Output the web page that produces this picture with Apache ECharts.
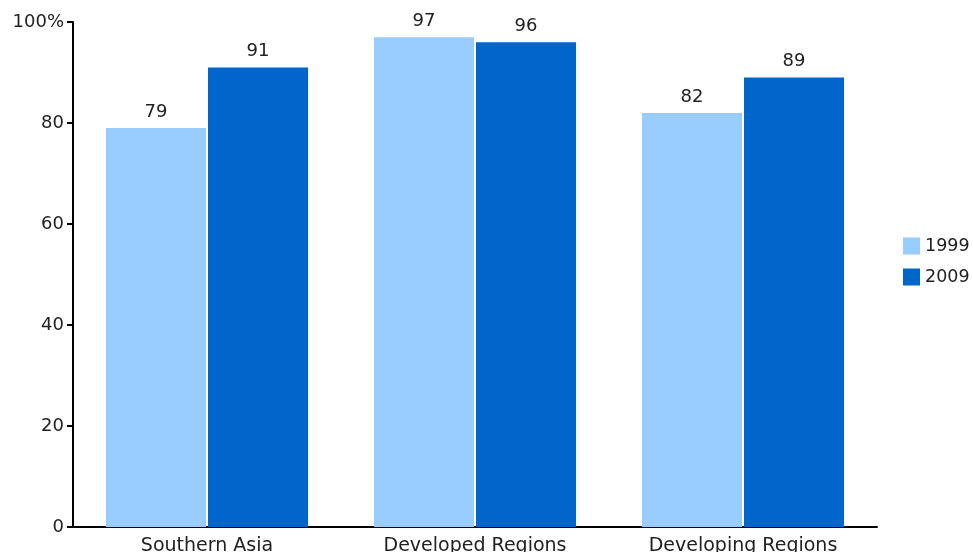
<!DOCTYPE html>
<html><head><meta charset="utf-8">
<script src="https://cdn.jsdelivr.net/npm/echarts@6/dist/echarts.min.js"></script>
<style>html,body{margin:0;padding:0;background:#fff}#c{width:973px;height:552px}</style>
</head><body><div id="c"></div>
<script>
const categories = ['Southern Asia', 'Developed Regions', 'Developing Regions'];
const values1999 = [79, 97, 82];
const values2009 = [91, 96, 89];
const seriesNames = ['1999', '2009'];
const yTicks = [0, 20, 40, 60, 80, 100];

const font = 'DejaVu Sans';
const chart = echarts.init(document.getElementById('c'));
chart.setOption({
  animation: false,
  textStyle: { fontFamily: font },
  legend: {
    orient: 'vertical', left: 903, top: 237, padding: 0,
    itemWidth: 17, itemHeight: 17, itemGap: 13,
    icon: 'rect',
    textStyle: { fontSize: 17.5, color: '#222', fontFamily: font },
    data: seriesNames
  },
  grid: { left: 73, right: 96, top: 22, bottom: 25, containLabel: false, outerBoundsMode: 'none' },
  xAxis: {
    type: 'category', data: categories,
    axisLine: { lineStyle: { color: '#000', width: 2 } },
    axisTick: { show: false },
    axisLabel: { fontSize: 19, color: '#222', margin: 10, fontFamily: font }
  },
  yAxis: {
    type: 'value', min: yTicks[0], max: yTicks[yTicks.length - 1], interval: 20,
    axisLine: { show: true, lineStyle: { color: '#000', width: 2 } },
    axisTick: { show: true, length: 6, lineStyle: { color: '#000', width: 2 } },
    splitLine: { show: false },
    axisLabel: {
      fontSize: 18, color: '#222', margin: 9, fontFamily: font,
      formatter: v => v === 100 ? '100%' : String(v)
    }
  },
  series: [
    {
      name: seriesNames[0], type: 'bar', data: values1999,
      barGap: '2%', barCategoryGap: '24.6%',
      itemStyle: { color: '#99CCFF' },
      label: { show: true, position: 'top', distance: 7, fontSize: 18, color: '#222', fontFamily: font }
    },
    {
      name: seriesNames[1], type: 'bar', data: values2009,
      barGap: '2%', barCategoryGap: '24.6%',
      itemStyle: { color: '#0066CC' },
      label: { show: true, position: 'top', distance: 7, fontSize: 18, color: '#222', fontFamily: font }
    }
  ]
});
</script></body></html>
